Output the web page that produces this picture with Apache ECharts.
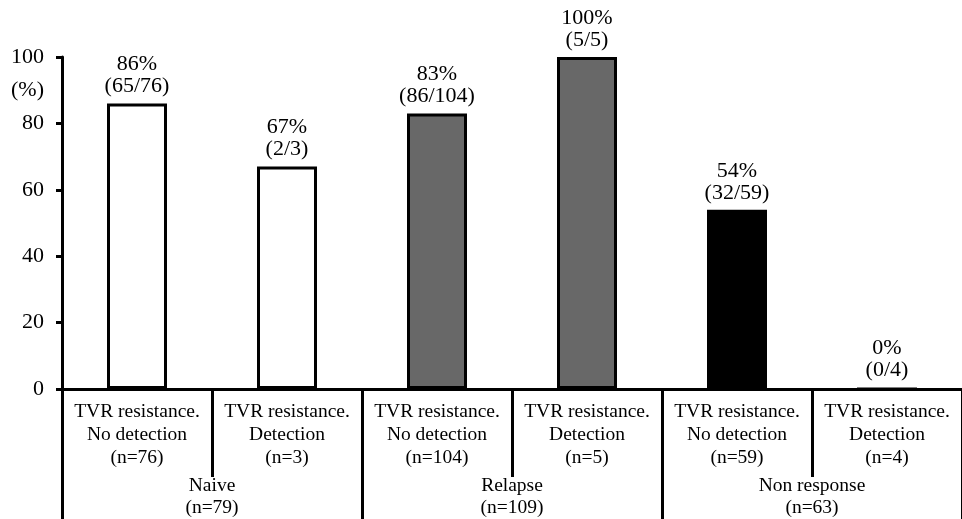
<!DOCTYPE html>
<html>
<head>
<meta charset="utf-8">
<script src="https://cdn.jsdelivr.net/npm/echarts@6/dist/echarts.min.js"></script>
<style>
  html, body { margin: 0; padding: 0; background: #fff; }
  #chart { width: 962px; height: 519px; }
</style>
</head>
<body>
<div id="chart"></div>
<script>
// data
const subLabels = ['TVR resistance.\nNo detection', 'TVR resistance.\nDetection',
                   'TVR resistance.\nNo detection', 'TVR resistance.\nDetection',
                   'TVR resistance.\nNo detection', 'TVR resistance.\nDetection'];
const subN = [76, 3, 104, 5, 59, 4];
const groups = ['Naive', 'Relapse', 'Non response'];
const groupN = [79, 109, 63];
const percent = [86, 67, 83, 100, 54, 0];
const hits = [65, 2, 86, 5, 32, 0];
const totals = [76, 3, 104, 5, 59, 4];
const yTicks = [0, 20, 40, 60, 80, 100];

const font = 'Liberation Serif';
const barColors = ['#ffffff', '#ffffff', '#686868', '#686868', '#000000', '#000000'];

const chart = echarts.init(document.getElementById('chart'));

const option = {
  animation: false,
  textStyle: { fontFamily: font, color: '#000' },
  grid: { left: 62, right: -4, top: 57, bottom: 130 },
  xAxis: [
    {
      type: 'category',
      position: 'bottom',
      boundaryGap: true,
      data: subLabels.map((s, i) => s + '\n(n=' + subN[i] + ')'),
      axisLine: { show: true, lineStyle: { color: '#000', width: 3 } },
      axisTick: { show: true, interval: 0, length: 88, lineStyle: { color: '#000', width: 3 } },
      axisLabel: { interval: 0, color: '#000', fontFamily: font, fontSize: 19.5, lineHeight: 23, margin: 11 }
    },
    {
      type: 'category',
      position: 'bottom',
      boundaryGap: true,
      data: groups.map((g, i) => g + '\n(n=' + groupN[i] + ')'),
      axisLine: { show: true, lineStyle: { color: '#000', width: 3 } },
      axisTick: { show: true, interval: 0, length: 132, lineStyle: { color: '#000', width: 3 } },
      axisLabel: { interval: 0, color: '#000', fontFamily: font, fontSize: 19.5, lineHeight: 22, margin: 86 }
    }
  ],
  yAxis: {
    type: 'value',
    min: 0,
    max: 100,
    interval: 20,
    name: '(%)',
    nameLocation: 'end',
    nameGap: -44,
    nameTextStyle: { color: '#000', fontFamily: font, fontSize: 22, align: 'right', padding: [0, 18, 0, 0] },
    splitLine: { show: false },
    axisLine: { show: true, lineStyle: { color: '#000', width: 3 } },
    axisTick: { show: true, length: 6, lineStyle: { color: '#000', width: 3 } },
    axisLabel: {
      color: '#000', fontFamily: font, fontSize: 22, margin: 18,
      formatter: v => yTicks.includes(v) ? String(v) : ''
    }
  },
  series: [
    {
      type: 'bar',
      xAxisIndex: 0,
      barWidth: 60,
      data: percent.map((v, i) => ({
        value: v,
        itemStyle: { color: barColors[i], borderColor: '#000', borderWidth: 3 }
      })),
      label: {
        show: true,
        position: 'top',
        distance: 6,
        color: '#000',
        fontFamily: font,
        fontSize: 22,
        lineHeight: 22,
        formatter: p => percent[p.dataIndex] + '%\n(' + hits[p.dataIndex] + '/' + totals[p.dataIndex] + ')'
      }
    }
  ]
};

chart.setOption(option);
</script>
</body>
</html>
